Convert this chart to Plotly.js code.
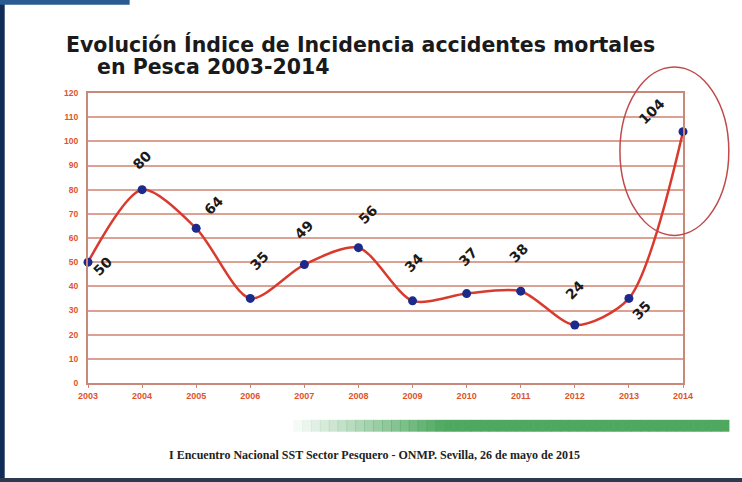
<!DOCTYPE html>
<html>
<head>
<meta charset="utf-8">
<script src="https://cdn.plot.ly/plotly-3.0.1.min.js"></script>
<style>html,body{margin:0;padding:0;background:#fff;}#chart{width:742px;height:482px;}</style>
</head>
<body>
<div id="chart"></div>
<script>
const years = [2003, 2004, 2005, 2006, 2007, 2008, 2009, 2010, 2011, 2012, 2013, 2014];
const values = [50, 80, 64, 35, 49, 56, 34, 37, 38, 24, 35, 104];
const yTicks = [0, 10, 20, 30, 40, 50, 60, 70, 80, 90, 100, 110, 120];
const titleLine1 = "Evolución Índice de Incidencia accidentes mortales";
const titleLine2 = "en Pesca 2003-2014";
const footer = "I Encuentro Nacional SST Sector Pesquero - ONMP. Sevilla, 26 de mayo de 2015";
// label offsets in px (dx, dy) relative to each point
const labelOffsets = [[15,-4],[0,30],[18,23],[9,37],[-1,35],[9,33],[1,38],[1,37],[-2,38],[0,35],[13,-12],[-32,20]];

const trace = {
  x: years, y: values, type: 'scatter', mode: 'lines+markers',
  line: {shape: 'spline', smoothing: 0.8, color: '#d93a2e', width: 2.5},
  marker: {color: '#1c2a8c', size: 9},
  cliponaxis: false, hoverinfo: 'skip'
};

const annotations = years.map((yr, i) => ({
  x: yr, y: values[i], xref: 'x', yref: 'y',
  text: '<b>' + values[i] + '</b>', showarrow: false, textangle: -45,
  xshift: labelOffsets[i][0], yshift: labelOffsets[i][1],
  font: {family: 'DejaVu Sans', size: 14, color: '#1a1a1a'}
}));
annotations.push({
  xref: 'paper', yref: 'paper', x: -0.04, y: 1.166, xanchor: 'left', yanchor: 'middle',
  text: '<b>' + titleLine1 + '</b>', showarrow: false,
  font: {family: 'DejaVu Sans', size: 20.5, color: '#1a1a1a'}
});
annotations.push({
  xref: 'paper', yref: 'paper', x: 0.012, y: 1.09, xanchor: 'left', yanchor: 'middle',
  text: '<b>' + titleLine2 + '</b>', showarrow: false,
  font: {family: 'DejaVu Sans', size: 20.5, color: '#1a1a1a'}
});
annotations.push({
  xref: 'paper', yref: 'paper', x: 0.482, y: -0.248, xanchor: 'center', yanchor: 'middle',
  text: '<b>' + footer + '</b>', showarrow: false,
  font: {family: 'Liberation Serif', size: 12, color: '#222'}
});

const layout = {
  width: 742, height: 482,
  margin: {l: 88, r: 59, t: 93, b: 99},
  paper_bgcolor: '#ffffff', plot_bgcolor: '#ffffff',
  showlegend: false,
  xaxis: {
    range: [2003, 2014], tickvals: years, ticktext: years.map(String),
    showgrid: false, zeroline: false, showline: true, mirror: true,
    linecolor: '#c9897a', linewidth: 2,
    ticks: 'outside', ticklen: 3, tickcolor: '#c9897a',
    tickfont: {family: 'Liberation Sans', size: 9, color: '#e0532b', weight: 'bold'}
  },
  yaxis: {
    range: [0, 120], tickvals: yTicks,
    showgrid: true, gridcolor: '#dca193', gridwidth: 2,
    zeroline: false, showline: true, mirror: true,
    linecolor: '#c9897a', linewidth: 2,
    ticks: '', ticklabelstandoff: 6,
    tickfont: {family: 'Liberation Sans', size: 8.5, color: '#e0532b', weight: 'bold'}
  },
  annotations: annotations,
  shapes: [
    {type: 'circle', xref: 'paper', yref: 'paper',
     x0: 0.894, x1: 1.077, y0: 0.509, y1: 1.09,
     line: {color: '#c0494a', width: 1.5}},
    {type: 'rect', xref: 'paper', yref: 'paper', x0: -0.148, x1: -0.14, y0: -0.342, y1: 1.321,
     fillcolor: '#0f2c57', line: {width: 0}},
    {type: 'rect', xref: 'paper', yref: 'paper', x0: -0.148, x1: 0.07, y0: 1.304, y1: 1.321,
     fillcolor: '#2a5a92', line: {width: 0}},
    {type: 'rect', xref: 'paper', yref: 'paper', x0: -0.148, x1: 1.1, y0: -0.342, y1: -0.328,
     fillcolor: '#2b3a4e', line: {width: 0}}
  ]
};

// green gradient bar built as segments
const gx0 = 0.33, gx1 = 1.077, nSeg = 50;
for (let i = 0; i < nSeg; i++) {
  const t = i / (nSeg - 1);
  const a = Math.min(1, t * 2.8);
  layout.shapes.push({
    type: 'rect', xref: 'paper', yref: 'paper', layer: 'below',
    x0: gx0 + (gx1 - gx0) * i / nSeg, x1: gx0 + (gx1 - gx0) * (i + 1) / nSeg + 0.001,
    y0: -0.168, y1: -0.127,
    fillcolor: 'rgba(78,168,96,' + a.toFixed(3) + ')', line: {width: 0}
  });
}

Plotly.newPlot('chart', [trace], layout, {displayModeBar: false, staticPlot: true});
</script>
</body>
</html>
